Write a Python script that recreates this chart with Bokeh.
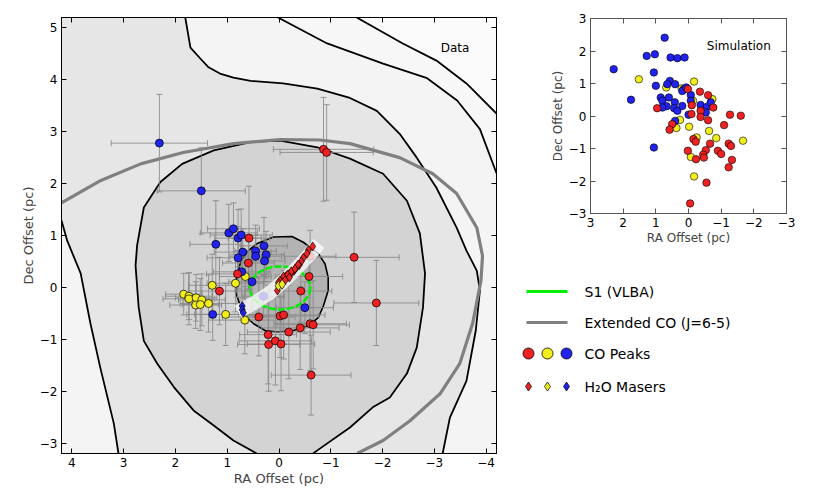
import math
from bokeh.plotting import figure
from bokeh.models import Range1d, LinearAxis, FixedTicker
from bokeh.layouts import row, column
from bokeh.core.properties import value
from bokeh.embed import file_html
from bokeh.resources import INLINE

FONT = "DejaVu Sans"
RED, YEL, BLU = "#ee2222", "#f2ee1e", "#2222ee"

# ---------------- main panel data (RA pc, Dec pc) ----------------
blue_ra   = [2.31, 1.50, 0.97, 0.88, 0.79, 0.73, 1.22, 0.70, 0.79, 0.45, 0.29, 0.45, 0.25, 0.28, 0.72, 0.52, 1.28, -0.50, 0.30]
blue_dec  = [2.78, 1.86, 1.05, 1.13, 0.95, 1.01, 0.83, 0.68, 0.57, 0.70, 0.80, 0.60, 0.63, 0.51, 0.30, 0.11, -0.52, -0.39, -0.17]
blue_xerr = [0.93, 0.85, 0.55, 0.50, 0.45, 0.60, 0.50, 0.55, 0.60, 0.40, 0.45, 0.50, 0.35, 0.40, 0.55, 0.45, 0.50, 0.55, 0.40]
blue_yerr = [0.94, 0.83, 0.55, 0.50, 0.55, 0.50, 0.84, 0.45, 0.60, 0.50, 0.55, 0.40, 0.45, 0.40, 0.50, 0.55, 0.50, 0.50, 0.40]

red_ra   = [0.58, 0.59, 0.80, 1.15, -0.86, -0.92, -1.45, -1.88, -0.62, -0.58, -0.42, 0.39, -0.02, -0.09, -0.19, -0.41, -0.60, -0.66, 0.21, 0.20, 0.07, -0.04, -0.60]
red_dec  = [0.95, 0.47, 0.26, -0.07, 2.66, 2.60, 0.58, -0.30, -1.69, 0.21, -0.07, -0.57, -0.55, -0.53, -0.86, -0.78, -0.70, -0.72, -0.91, -1.10, -1.03, -1.09, 0.60]
red_xerr = [0.40, 0.50, 0.60, 0.60, 0.97, 0.90, 0.87, 0.82, 0.77, 0.65, 0.60, 0.70, 0.75, 0.80, 0.80, 0.75, 0.70, 0.70, 0.55, 0.60, 0.70, 0.65, 0.50]
red_yerr = [1.00, 0.50, 0.45, 0.65, 1.00, 0.92, 0.87, 0.82, 0.77, 0.60, 0.60, 0.75, 0.80, 0.85, 0.90, 0.80, 0.90, 0.85, 0.95, 0.90, 0.85, 0.90, 0.50]

yel_ra   = [0.65, 0.84, 1.29, 1.84, 1.74, 1.74, 1.60, 1.49, 1.61, 1.52, 1.36, 1.03, 0.66]
yel_dec  = [0.21, 0.08, 0.04, -0.13, -0.17, -0.22, -0.20, -0.24, -0.34, -0.33, -0.31, -0.52, -0.63]
yel_xerr = [0.50, 0.55, 0.45, 0.35, 0.45, 0.50, 0.40, 0.45, 0.50, 0.35, 0.55, 0.60, 0.70]
yel_yerr = [0.50, 0.55, 0.60, 0.40, 0.45, 0.50, 0.45, 0.50, 0.45, 0.50, 0.55, 0.60, 0.65]

maser_red_ra  = [-0.65, -0.57, -0.54, -0.47, -0.43, -0.39, -0.34, -0.29, -0.25, -0.20, -0.15, -0.10, -0.06, -0.02, 0.01, 0.03, -0.09, -0.17, -0.24, -0.31, -0.37, -0.20, -0.12]
maser_red_dec = [0.79, 0.72, 0.65, 0.57, 0.50, 0.43, 0.39, 0.32, 0.29, 0.26, 0.23, 0.19, 0.16, 0.13, 0.09, -0.06, 0.21, 0.25, 0.31, 0.36, 0.44, 0.19, 0.14]
maser_yel_ra  = [0.01, -0.06]
maser_yel_dec = [0.03, 0.06]
maser_blu_ra  = [0.71, 0.71, 0.69]
maser_blu_dec = [-0.36, -0.43, -0.49]

# S1 (VLBA) ellipse
s1_ra, s1_dec, s1_w, s1_h = -0.02, -0.01, 1.17, 0.83
# white band (jet direction)
band_ra  = [0.79, 0.46, 0.17, -0.12, -0.41, -0.64, -0.77]
band_dec = [-0.47, -0.29, -0.10, 0.15, 0.44, 0.69, 0.85]

# Extended CO (J=6-5) curve
co_ra  = [4.2, 3.44, 2.67, 1.85, 0.88, -0.02, -0.79, -1.37, -2.33, -2.97, -3.43, -3.82, -3.93, -3.90, -3.74, -3.49, -3.11, -2.53, -2.01, -1.51]
co_dec = [1.63, 2.06, 2.38, 2.60, 2.77, 2.85, 2.84, 2.77, 2.50, 2.19, 1.81, 1.15, 0.61, 0.13, -0.69, -1.47, -2.05, -2.57, -2.95, -3.2]

# contour levels of the data map
c1_left_ra  = [4.2, 4.09, 3.83, 3.64, 3.45, 3.19, 3.10]
c1_left_dec = [1.29, 0.90, 0.27, -0.70, -1.55, -2.62, -3.2]
c1_right_ra  = [1.81, 1.71, 1.52, 1.36, 1.14, 0.88, 0.55, -0.08, -0.74, -1.37, -1.89, -2.33, -2.66, -3.04, -3.43, -3.62, -3.82, -3.88, -3.80, -3.62, -3.30, -3.16]
c1_right_dec = [5.2, 4.62, 4.41, 4.24, 4.12, 4.04, 3.98, 3.93, 3.83, 3.65, 3.40, 2.96, 2.50, 1.92, 1.15, 0.71, 0.32, -0.06, -0.83, -1.80, -2.51, -3.2]
c2_ra  = [0.43, 0.88, 1.26, 1.65, 2.03, 2.35, 2.61, 2.71, 2.77, 2.74, 2.61, 2.29, 1.87, 1.26, 0.55, -0.02, -0.74, -1.37, -2.01, -2.47, -2.72, -2.82, -2.78, -2.66, -2.47, -2.14, -1.81, -1.37, -0.74, -0.66]
c2_dec = [-3.2, -2.95, -2.66, -2.37, -1.92, -1.47, -1.03, -0.38, 0.42, 0.81, 1.54, 2.03, 2.38, 2.64, 2.80, 2.83, 2.70, 2.48, 2.19, 1.67, 1.04, 0.27, -0.39, -1.16, -1.66, -2.12, -2.31, -2.70, -3.14, -3.2]
c3_ra  = [0.43, 0.11, -0.25, -0.47, -0.76, -0.89, -0.95, -0.95, -0.86, -0.76, -0.56, -0.28, 0.04, 0.27, 0.49, 0.62, 0.75, 0.84, 0.82, 0.73, 0.59]
c3_dec = [0.84, 0.97, 0.98, 0.87, 0.65, 0.45, 0.19, -0.06, -0.35, -0.58, -0.74, -0.83, -0.86, -0.83, -0.70, -0.58, -0.35, -0.09, 0.23, 0.52, 0.71]
cA_ra  = [0.02, -0.93, -2.01, -2.86, -3.44, -3.88, -4.2]
cA_dec = [5.2, 4.70, 4.31, 4.03, 3.60, 3.05, 2.20]
cB_ra  = [-1.50, -2.39, -3.04, -3.62, -4.2]
cB_dec = [5.2, 4.70, 4.37, 3.93, 3.35]

# ---------------- simulation inset data ----------------
sb_ra  = [0.73, 1.28, 1.03, 0.55, 0.34, 0.12, 2.29, 1.06, 1.00, 1.76, 0.57, 0.65, 0.41, 0.85, 0.80, 0.60, 0.42, 0.67, 0.80, 0.44, 0.34, 0.19, 0.14, 0.19, 0.07, -0.07, -0.07, 0.00, 0.41, 1.06, -0.37, -0.56, -0.53, -0.68]
sb_dec = [2.41, 1.85, 1.90, 1.80, 1.78, 1.80, 1.44, 1.34, 0.93, 0.50, 1.08, 0.98, 0.98, 0.57, 0.47, 0.57, 0.42, 0.30, 0.26, 0.24, 0.16, 0.31, 0.83, 0.77, 0.88, 0.65, 0.47, 0.04, -0.15, -0.97, 0.34, 0.28, 0.11, 0.42]
sy_ra  = [1.52, 0.68, 0.21, -0.17, -0.73, -0.14, 0.26, 0.37, -0.02, -0.25, -0.63, -0.85, -0.07, -0.17, -1.67]
sy_dec = [1.13, 0.88, 0.85, 1.06, 0.52, 0.47, -0.12, -0.37, -0.33, -0.66, -0.46, -0.68, -1.26, -1.86, -0.76]
sr_ra  = [0.96, 0.02, -0.10, -0.35, -0.60, -0.76, -0.37, -0.37, -0.09, -0.60, 0.50, 0.58, -1.09, -1.27, -1.60, -0.15, -0.22, 0.02, -0.23, -0.53, -0.45, -0.47, -0.66, -0.90, -1.00, -1.23, -1.30, -1.33, -1.23, -0.55, -0.05]
sr_dec = [0.24, 0.83, 0.33, 0.75, 0.64, 0.26, 0.16, -0.03, 0.06, -0.13, -0.25, -0.42, -0.28, 0.04, 0.01, -0.71, -0.79, -1.07, -1.33, -1.05, -1.19, -1.28, -0.85, -1.07, -1.17, -0.85, -0.92, -1.35, -1.58, -2.05, -2.69]

main_ticks_x = [4, 3, 2, 1, 0, -1, -2, -3, -4]
main_ticks_y = [-3, -2, -1, 0, 1, 2, 3, 4, 5]
inset_ticks = [-3, -2, -1, 0, 1, 2, 3]

XMIN, XMAX, YMIN, YMAX = 4.2, -4.2, -3.2, 5.2


def minus(t):
    return {v: (str(v) if v >= 0 else "\u2212" + str(-v)) for v in t}


def style(p, xt, yt, lab_size, title_size, axcol="black", lab_standoff=1):
    p.xgrid.visible = False
    p.ygrid.visible = False
    p.outline_line_color = axcol
    p.outline_line_width = 1
    for ax, t in ((p.xaxis[0], xt), (p.yaxis[0], yt)):
        ax.ticker = FixedTicker(ticks=t)
        ax.major_label_overrides = minus(t)
        ax.major_tick_in = 5
        ax.major_tick_out = 0
        ax.minor_tick_line_color = None
        ax.axis_line_color = axcol
        ax.major_tick_line_color = axcol
        ax.major_label_text_font = FONT
        ax.major_label_text_font_size = lab_size
        ax.major_label_text_color = "black"
        ax.major_label_standoff = 4
        ax.axis_label_text_font = FONT
        ax.axis_label_text_font_size = title_size
        ax.axis_label_text_font_style = "normal"
        ax.axis_label_standoff = lab_standoff
    p.xaxis.axis_label = "RA Offset (pc)"
    p.yaxis.axis_label = "Dec Offset (pc)"
    for loc, t in (("above", xt), ("right", yt)):
        a = LinearAxis(ticker=FixedTicker(ticks=t), major_tick_in=5, major_tick_out=0,
                       minor_tick_line_color=None, major_label_overrides={v: "" for v in t},
                       major_label_text_color=None, major_label_standoff=0,
                       axis_line_color=axcol, major_tick_line_color=axcol)
        p.add_layout(a, loc)


main = figure(frame_width=435, frame_height=436, x_range=Range1d(XMIN, XMAX), y_range=Range1d(YMIN, YMAX),
              output_backend="svg", toolbar_location=None, min_border_left=61, min_border_top=17,
              min_border_right=12, min_border_bottom=28, background_fill_color="#f4f4f4",
              border_fill_color="white")
main.frame_align = False
style(main, main_ticks_x, main_ticks_y, "12px", "13px", lab_standoff=1)

# filled contour regions
e8_x = [XMIN] + c1_right_ra + c1_left_ra[::-1]
e8_y = [YMAX] + c1_right_dec + c1_left_dec[::-1]
main.patch(e8_x, e8_y, fill_color="#e6e6e6", line_color=None)
main.patch(cA_ra + [XMAX], cA_dec + [YMAX], fill_color="#f7f7f7", line_color=None)
main.patch(cB_ra + [XMAX], cB_dec + [YMAX], fill_color="#fbfbfb", line_color=None)
main.patch(c2_ra, c2_dec, fill_color="#d3d3d3", line_color=None)
main.patch(c3_ra, c3_dec, fill_color="#b3b3b3", line_color="black", line_width=1.6)
for cx, cy in ((c1_left_ra, c1_left_dec), (c1_right_ra, c1_right_dec), (c2_ra, c2_dec), (cA_ra, cA_dec), (cB_ra, cB_dec)):
    main.line(cx, cy, line_color="black", line_width=1.8)

main.line(co_ra, co_dec, line_color="#808080", line_width=3.2)

# error bars (glyphs, so the markers sit on top of them)
all_ra = red_ra + yel_ra + blue_ra
all_dec = red_dec + yel_dec + blue_dec
all_xe = red_xerr + yel_xerr + blue_xerr
all_ye = red_yerr + yel_yerr + blue_yerr
xl = [a - e for a, e in zip(all_ra, all_xe)]
xu = [a + e for a, e in zip(all_ra, all_xe)]
yl = [a - e for a, e in zip(all_dec, all_ye)]
yu = [a + e for a, e in zip(all_dec, all_ye)]
ecol = "#888888"
main.segment(x0=xl, y0=all_dec, x1=xu, y1=all_dec, line_color=ecol, line_width=1, line_alpha=0.85)
main.segment(x0=all_ra, y0=yl, x1=all_ra, y1=yu, line_color=ecol, line_width=1, line_alpha=0.85)
main.scatter(xl + xu, all_dec + all_dec, marker="dash", angle=math.pi / 2, size=6,
             line_color=ecol, line_width=1, line_alpha=0.85)
main.scatter(all_ra + all_ra, yl + yu, marker="dash", size=6, line_color=ecol, line_width=1, line_alpha=0.85)

main.ellipse(x=[s1_ra], y=[s1_dec], width=[s1_w], height=[s1_h], fill_color=None,
             line_color="#00ee00", line_width=2.5, line_dash="7 2")

main.scatter(yel_ra, yel_dec, size=8, fill_color=YEL, line_color="black", line_width=0.7)
main.scatter(blue_ra, blue_dec, size=8, fill_color=BLU, line_color="black", line_width=0.7)
main.scatter(red_ra, red_dec, size=8, fill_color=RED, line_color="black", line_width=0.7)

main.line(band_ra, band_dec, line_color="white", line_width=14, line_alpha=0.75)

main.scatter(maser_red_ra, maser_red_dec, marker="diamond", size=9, fill_color=RED, line_color="black", line_width=0.7)
main.scatter(maser_yel_ra, maser_yel_dec, marker="diamond", size=10, fill_color=YEL, line_color="black", line_width=0.7)
main.scatter(maser_blu_ra, maser_blu_dec, marker="diamond", size=9, fill_color=BLU, line_color="black", line_width=0.7)

main.text(x=[-3.40], y=[4.62], text=["Data"], text_font=value(FONT), text_font_size="12px",
          text_align="center", text_baseline="middle", text_color="black")

# ---------------- inset ----------------
ins = figure(frame_width=196, frame_height=195, x_range=Range1d(3, -3), y_range=Range1d(-3, 3),
             output_backend="svg", toolbar_location=None, min_border_left=82, min_border_top=18,
             min_border_right=16, min_border_bottom=40, background_fill_color="white")
ins.frame_align = False
style(ins, inset_ticks, inset_ticks, "12px", "12px", axcol="#555555", lab_standoff=1)
ins.scatter(sy_ra, sy_dec, size=7.5, fill_color=YEL, line_color="black", line_width=0.6)
ins.scatter(sb_ra, sb_dec, size=7.5, fill_color=BLU, line_color="black", line_width=0.6)
ins.scatter(sr_ra, sr_dec, size=7.5, fill_color=RED, line_color="black", line_width=0.6)
ins.text(x=[-1.54], y=[2.14], text=["Simulation"], text_font=value(FONT), text_font_size="12px",
         text_align="center", text_baseline="middle", text_color="black")

# ---------------- legend panel ----------------
LW, LH = 294, 240
leg = figure(width=LW, height=LH, x_range=Range1d(0, LW), y_range=Range1d(0, LH),
             output_backend="svg", toolbar_location=None, min_border=0, outline_line_color=None)
leg.frame_align = False
leg.axis.visible = False
leg.grid.visible = False
row_y = [202, 171, 140, 107]
leg.line([18, 59], [row_y[0]] * 2, line_color="#00ee00", line_width=3)
leg.line([18, 59], [row_y[1]] * 2, line_color="#808080", line_width=3.2)
leg.scatter([20, 39, 58], [row_y[2]] * 3, size=11, fill_color=[RED, YEL, BLU], line_color="black", line_width=0.8)
leg.scatter([20, 39, 58], [row_y[3]] * 3, marker="diamond", size=9, fill_color=[RED, YEL, BLU], line_color="black", line_width=0.7)
leg.text(x=[76] * 4, y=row_y, text=["S1 (VLBA)", "Extended CO (J=6-5)", "CO Peaks", "H\u2082O Masers"],
         text_font=value(FONT), text_font_size="14px", text_baseline="middle", text_align="left", text_color="black")

layout = row(main, column(ins, leg))
open("out.html", "w").write(file_html(layout, INLINE))
